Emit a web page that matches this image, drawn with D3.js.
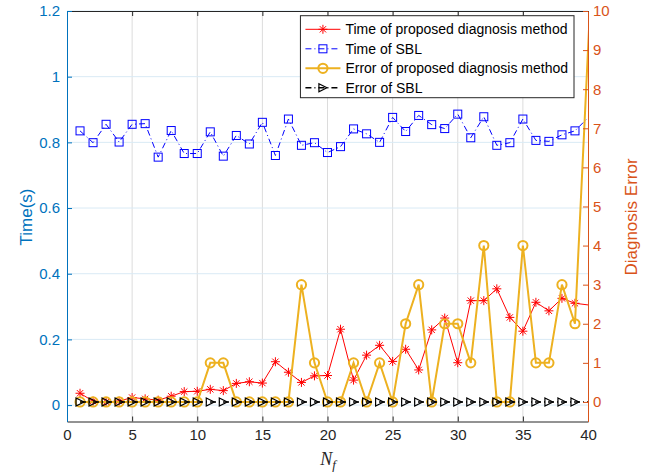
<!DOCTYPE html>
<html>
<head>
<meta charset="utf-8">
<script src="https://cdn.jsdelivr.net/npm/d3@7"></script>
<style>
  body { margin: 0; background: #fff; }
  text { font-family: "Liberation Sans", Arial, Helvetica, sans-serif; }
</style>
</head>
<body>
<div id="chart"></div>
<script>
// data (last point lies past the x limit and is clipped)
const nf = [1,2,3,4,5,6,7,8,9,10,11,12,13,14,15,16,17,18,19,20,
            21,22,23,24,25,26,27,28,29,30,31,32,33,34,35,36,37,38,39,41];
const timeProposed = [0.036,0.012,0.010,0.012,0.023,0.019,0.015,0.027,0.041,0.042,
                      0.048,0.044,0.066,0.071,0.067,0.132,0.100,0.069,0.089,0.090,
                      0.231,0.076,0.152,0.182,0.133,0.170,0.107,0.229,0.265,0.129,
                      0.318,0.318,0.354,0.267,0.225,0.313,0.287,0.325,0.310,0.300];
const timeSBL = [0.835,0.799,0.855,0.801,0.855,0.857,0.755,0.836,0.766,0.766,
                 0.832,0.758,0.821,0.795,0.861,0.760,0.871,0.791,0.799,0.769,
                 0.787,0.841,0.826,0.800,0.876,0.833,0.882,0.854,0.842,0.886,
                 0.814,0.878,0.791,0.799,0.871,0.806,0.803,0.823,0.835,0.915];
const errProposed = [0,0,0,0,0,0,0,0,0,0,1,1,0,0,0,0,0,3,1,0,
                     0,1,0,1,0,2,3,0,2,2,1,4,0,0,4,1,1,3,2,16];
const errSBL = [0,0,0,0,0,0,0,0,0,0,0,0,0,0,0,0,0,0,0,0,
                0,0,0,0,0,0,0,0,0,0,0,0,0,0,0,0,0,0,0,0];

const xTicks = [0,5,10,15,20,25,30,35,40];
const leftTicks = [0,0.2,0.4,0.6,0.8,1,1.2];
const rightTicks = [0,1,2,3,4,5,6,7,8,9,10];

const seriesNames = ["Time of proposed diagnosis method", "Time of SBL",
                     "Error of proposed diagnosis method", "Error of SBL"];

const W = 662, H = 475;
const pLeft = 67, pRight = 588, pTop = 11, pBottom = 421.5;
const blue = "#0072BD", orange = "#D95319", dark = "#262626";

const svg = d3.select("#chart").append("svg")
    .attr("width", W).attr("height", H);

const x = d3.scaleLinear().domain([0, 40]).range([pLeft, pRight]);
const yL = d3.scaleLinear().domain([-0.05, 1.2]).range([pBottom, pTop]);
const yR = d3.scaleLinear().domain([-0.5, 10]).range([pBottom, pTop]);

svg.append("clipPath").attr("id", "clip").append("rect")
    .attr("x", pLeft).attr("y", pTop).attr("width", pRight - pLeft).attr("height", pBottom - pTop);

// grid
svg.append("g").selectAll("line").data(xTicks.slice(1, -1)).join("line")
    .attr("x1", d => x(d)).attr("x2", d => x(d))
    .attr("y1", pTop).attr("y2", pBottom)
    .attr("stroke", "#dcdcdc").attr("stroke-width", 1);
svg.append("g").selectAll("line").data(leftTicks).join("line")
    .attr("x1", pLeft).attr("x2", pRight)
    .attr("y1", d => yL(d)).attr("y2", d => yL(d))
    .attr("stroke", "#d9eaf5").attr("stroke-width", 1);

// lines
const lineL = (vals) => d3.line().x((d, i) => x(nf[i])).y(d => yL(d))(vals);
const lineR = (vals) => d3.line().x((d, i) => x(nf[i])).y(d => yR(d))(vals);

function star(g, cx, cy, r, color) {
  const p = `M${cx-r},${cy}L${cx+r},${cy}M${cx},${cy-r}L${cx},${cy+r}` +
    `M${cx-r*0.7},${cy-r*0.7}L${cx+r*0.7},${cy+r*0.7}M${cx-r*0.7},${cy+r*0.7}L${cx+r*0.7},${cy-r*0.7}`;
  g.append("path").attr("d", p).attr("stroke", color).attr("stroke-width", 1).attr("fill", "none");
}
function square(g, cx, cy, s, color) {
  g.append("rect").attr("x", cx - s/2).attr("y", cy - s/2).attr("width", s).attr("height", s)
    .attr("fill", "none").attr("stroke", color).attr("stroke-width", 1);
}
function circle(g, cx, cy, r, color) {
  g.append("circle").attr("cx", cx).attr("cy", cy).attr("r", r)
    .attr("fill", "none").attr("stroke", color).attr("stroke-width", 2);
}
function tri(g, cx, cy, s, color) {
  g.append("path").attr("d", `M${cx-s/2},${cy-s/2}L${cx+s/2},${cy}L${cx-s/2},${cy+s/2}Z`)
    .attr("fill", "none").attr("stroke", color).attr("stroke-width", 1.2);
}

const plot = svg.append("g").attr("clip-path", "url(#clip)");

// Time of SBL
plot.append("path").attr("d", lineL(timeSBL)).attr("fill", "none")
    .attr("stroke", "#0000ff").attr("stroke-width", 1).attr("stroke-dasharray", "6,3,1,3");
timeSBL.forEach((v, i) => square(plot, x(nf[i]), yL(v), 8, "#0000ff"));

// Time of proposed
plot.append("path").attr("d", lineL(timeProposed)).attr("fill", "none")
    .attr("stroke", "#ff0000").attr("stroke-width", 1);
timeProposed.forEach((v, i) => star(plot, x(nf[i]), yL(v), 4.5, "#ff0000"));

// Error of proposed
plot.append("path").attr("d", lineR(errProposed)).attr("fill", "none")
    .attr("stroke", "#EDB120").attr("stroke-width", 2);
errProposed.forEach((v, i) => circle(plot, x(nf[i]), yR(v), 4.6, "#EDB120"));

// Error of SBL
plot.append("path").attr("d", lineR(errSBL)).attr("fill", "none")
    .attr("stroke", "#000").attr("stroke-width", 1.6).attr("stroke-dasharray", "6,3,1,3");
errSBL.forEach((v, i) => tri(plot, x(nf[i]), yR(v), 8, "#000"));

// axes
const xAxis = svg.append("g").attr("transform", `translate(0,${pBottom})`)
    .call(d3.axisBottom(x).tickValues(xTicks).tickSize(-5).tickPadding(8).tickSizeOuter(0));
const xTop = svg.append("g").attr("transform", `translate(0,${pTop})`)
    .call(d3.axisTop(x).tickValues(xTicks).tickSize(-5).tickFormat("").tickSizeOuter(0));
[xAxis, xTop].forEach(a => {
  a.select(".domain").attr("stroke", dark);
  a.selectAll(".tick line").attr("stroke", dark);
  a.selectAll(".tick text").attr("fill", dark).style("font-size", "15px");
});

const yAxisL = svg.append("g").attr("transform", `translate(${pLeft},0)`)
    .call(d3.axisLeft(yL).tickValues(leftTicks).tickFormat(d => d).tickSize(-5).tickPadding(7).tickSizeOuter(0));
yAxisL.select(".domain").attr("stroke", blue);
yAxisL.selectAll(".tick line").attr("stroke", blue);
yAxisL.selectAll(".tick text").attr("fill", blue).style("font-size", "15px");

const yAxisR = svg.append("g").attr("transform", `translate(${pRight},0)`)
    .call(d3.axisRight(yR).tickValues(rightTicks).tickSize(-5).tickPadding(5).tickSizeOuter(0));
yAxisR.select(".domain").attr("stroke", orange);
yAxisR.selectAll(".tick line").attr("stroke", orange);
yAxisR.selectAll(".tick text").attr("fill", orange).style("font-size", "15px");

// axis titles
svg.append("text").attr("transform", "translate(32,217) rotate(-90)")
    .attr("text-anchor", "middle").attr("fill", blue).style("font-size", "17px").text("Time(s)");
svg.append("text").attr("transform", "translate(637,217) rotate(-90)")
    .attr("text-anchor", "middle").attr("fill", orange).style("font-size", "17px").text("Diagnosis Error");
const xl = svg.append("text").attr("x", 328).attr("y", 465).attr("text-anchor", "middle")
    .attr("fill", dark).style("font-family", "'Liberation Serif', 'Times New Roman', serif")
    .style("font-style", "italic").style("font-size", "18px");
xl.append("tspan").text("N");
xl.append("tspan").attr("dy", 4).style("font-size", "13px").text("f");

// legend
const lgRight = 574, lgTop = 15.7, lgBottom = 97.7;
const rowY = [29.3, 48.8, 68.3, 87.8];
const lg = svg.append("g");
const box = lg.append("rect").attr("fill", "#fff").attr("stroke", dark).attr("stroke-width", 1)
    .attr("y", lgTop).attr("height", lgBottom - lgTop);
const texts = seriesNames.map((n, i) => lg.append("text").attr("y", rowY[i]).attr("dy", "0.35em")
    .attr("x", 568).attr("fill", "#000").style("font-size", "14px").text(n));
const maxW = d3.max(texts, t => t.node().getComputedTextLength());
const textStart = 568 - maxW;
texts.forEach(t => t.attr("x", textStart));
const s0 = textStart - 40, s1 = textStart - 5, sm = (s0 + s1) / 2;
box.attr("x", s0 - 5).attr("width", lgRight - (s0 - 5));

lg.append("line").attr("x1", s0).attr("x2", s1).attr("y1", rowY[0]).attr("y2", rowY[0])
    .attr("stroke", "#ff0000").attr("stroke-width", 1);
star(lg, sm, rowY[0], 4.5, "#ff0000");
lg.append("line").attr("x1", s0).attr("x2", s1).attr("y1", rowY[1]).attr("y2", rowY[1])
    .attr("stroke", "#0000ff").attr("stroke-width", 1).attr("stroke-dasharray", "6,3,1,3");
square(lg, sm, rowY[1], 8, "#0000ff");
lg.append("line").attr("x1", s0).attr("x2", s1).attr("y1", rowY[2]).attr("y2", rowY[2])
    .attr("stroke", "#EDB120").attr("stroke-width", 2);
circle(lg, sm, rowY[2], 4.6, "#EDB120");
lg.append("line").attr("x1", s0).attr("x2", s1).attr("y1", rowY[3]).attr("y2", rowY[3])
    .attr("stroke", "#000").attr("stroke-width", 1.6).attr("stroke-dasharray", "6,3,1,3");
tri(lg, sm, rowY[3], 8, "#000");
</script>
</body>
</html>
